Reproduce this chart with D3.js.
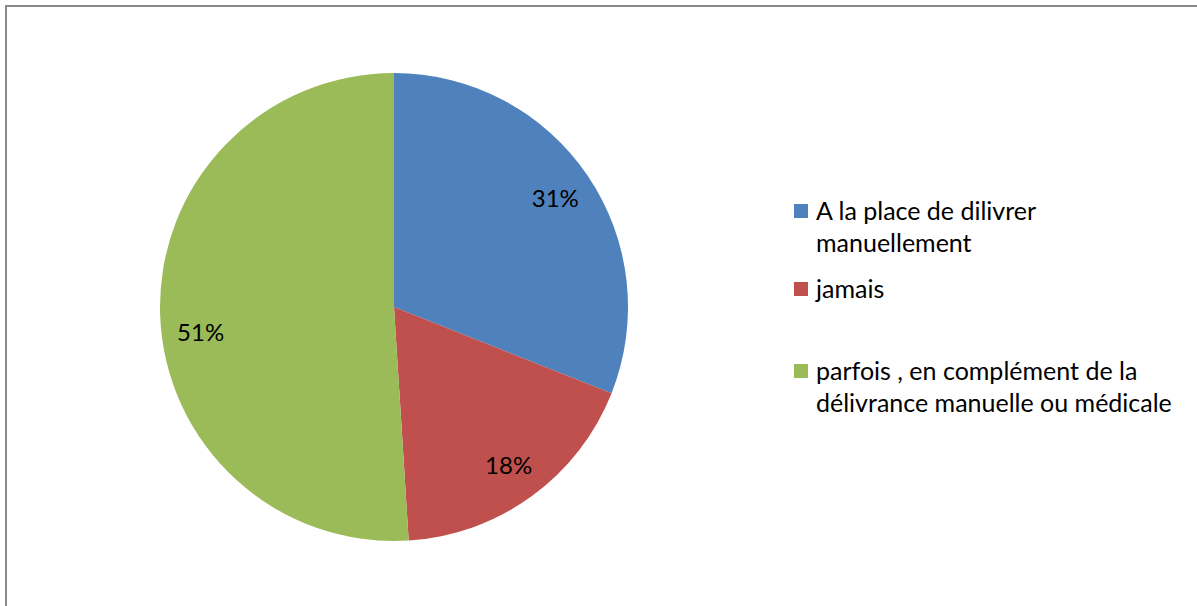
<!DOCTYPE html>
<html>
<head>
<meta charset="utf-8">
<script src="https://cdn.jsdelivr.net/npm/d3@7"></script>
<style>
  html, body { margin: 0; padding: 0; background: #fff; }
  svg { display: block; }
</style>
</head>
<body>
<svg id="chart" width="1197" height="606"></svg>
<script>
// Survey answers and their shares (percent)
const categories = [
  "A la place de dilivrer manuellement",
  "jamais",
  "parfois , en complément de la délivrance manuelle ou médicale"
];
const legendLines = [
  ["A la place de dilivrer", "manuellement"],
  ["jamais"],
  ["parfois , en complément de la", "délivrance manuelle ou médicale"]
];
const values = [31, 18, 51];
const colors = ["#4F81BD", "#C0504D", "#9BBB59"];

const svg = d3.select("#chart");
const font = "Lato, 'Open Sans', sans-serif";

// chart area frame
svg.append("rect")
  .attr("x", 6).attr("y", 6)
  .attr("width", 1300).attr("height", 700)
  .attr("fill", "none")
  .attr("stroke", "#888888")
  .attr("stroke-width", 2);

const cx = 394, cy = 307, R = 234;
const g = svg.append("g").attr("transform", `translate(${cx},${cy})`);

const data = categories.map((c, i) => ({ name: c, value: values[i], color: colors[i] }));

const pie = d3.pie().sort(null).value(d => d.value);
const arc = d3.arc().innerRadius(0).outerRadius(R);

const arcs = pie(data);

g.selectAll("path.slice")
  .data(arcs)
  .join("path")
  .attr("class", "slice")
  .attr("d", arc)
  .attr("fill", d => d.data.color);

// data labels sit inside each slice; the large slice's label is rotated
// slightly away from the horizontal midline ("best fit" placement)
const labelRadius = 195;
const labelAngleNudge = [0, 0, -5.5 * Math.PI / 180];
function labelPos(d, i) {
  const a = (d.startAngle + d.endAngle) / 2 + labelAngleNudge[i];
  return [labelRadius * Math.sin(a), -labelRadius * Math.cos(a)];
}

g.selectAll("text.pct")
  .data(arcs)
  .join("text")
  .attr("class", "pct")
  .attr("transform", (d, i) => `translate(${labelPos(d, i)})`)
  .attr("text-anchor", "middle")
  .attr("dominant-baseline", "central")
  .attr("font-family", font)
  .attr("font-size", 24)
  .attr("fill", "#000")
  .text(d => d.data.value + "%");

// legend
const legendY = [220, 298, 380];
const lg = svg.append("g");
data.forEach((d, i) => {
  lg.append("rect")
    .attr("x", 794).attr("y", legendY[i] - 16)
    .attr("width", 14).attr("height", 14)
    .attr("fill", d.color);
  const t = lg.append("text")
    .attr("x", 816).attr("y", legendY[i])
    .attr("font-family", font)
    .attr("font-size", 25)
    .attr("fill", "#000");
  legendLines[i].forEach((line, j) => {
    t.append("tspan").attr("x", 816).attr("y", legendY[i] + j * 32).text(line);
  });
});
</script>
</body>
</html>
